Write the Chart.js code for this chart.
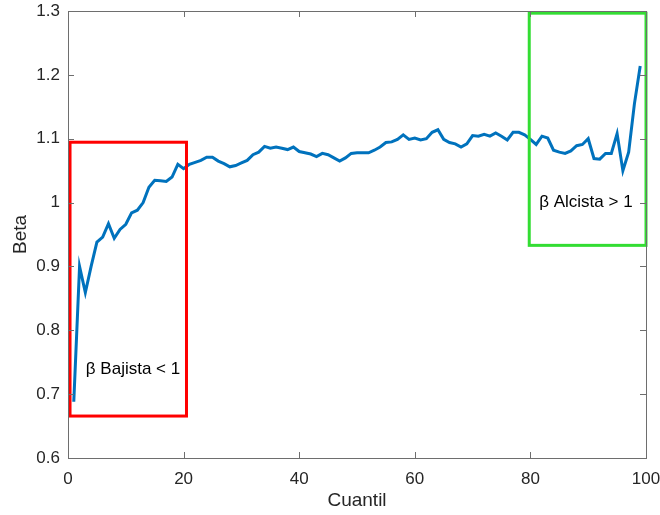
<!DOCTYPE html>
<html>
<head>
<meta charset="utf-8">
<script src="https://cdn.jsdelivr.net/npm/chart.js@4"></script>
<style>
  html, body { margin: 0; padding: 0; background: #fff; }
  #wrap { width: 660px; height: 515px; }
</style>
</head>
<body>
<div id="wrap"><canvas id="c" width="660" height="515"></canvas></div>
<script>
const quantiles = [1,2,3,4,5,6,7,8,9,10,11,12,13,14,15,16,17,18,19,20,21,22,23,24,25,26,27,28,29,30,31,32,33,34,35,36,37,38,39,40,41,42,43,44,45,46,47,48,49,50,51,52,53,54,55,56,57,58,59,60,61,62,63,64,65,66,67,68,69,70,71,72,73,74,75,76,77,78,79,80,81,82,83,84,85,86,87,88,89,90,91,92,93,94,95,96,97,98,99];
const betaValues = [0.688,0.900,0.859,0.900,0.938,0.946,0.967,0.944,0.958,0.966,
  0.984,0.988,1.000,1.024,1.035,1.034,1.033,1.040,1.060,1.053,
  1.060,1.063,1.066,1.071,1.071,1.065,1.061,1.056,1.058,1.062,
  1.066,1.075,1.079,1.088,1.085,1.087,1.085,1.083,1.087,1.080,
  1.078,1.076,1.072,1.077,1.075,1.070,1.065,1.070,1.077,1.078,
  1.078,1.078,1.082,1.087,1.094,1.095,1.099,1.106,1.099,1.101,
  1.098,1.100,1.110,1.114,1.099,1.094,1.092,1.087,1.092,1.105,
  1.104,1.107,1.104,1.109,1.104,1.098,1.110,1.110,1.106,1.099,
  1.091,1.104,1.101,1.082,1.079,1.077,1.081,1.089,1.091,1.100,
  1.069,1.068,1.077,1.077,1.108,1.050,1.079,1.155,1.214];
const xTicks = [0,20,40,60,80,100];
const yTicks = [0.6,0.7,0.8,0.9,1,1.1,1.2,1.3];
// annotation boxes in data units: [xMin, xMax, yMin, yMax]
const bearBox = [0.35, 20.5, 0.6657, 1.0945];
const bullBox = [79.8, 100, 0.933, 1.2966];
const bearLabel = { text: 'β Bajista < 1', x: 11.25, y: 0.739 };
const bullLabel = { text: 'β Alcista > 1', x: 89.6, y: 1.0 };

const points = quantiles.map((q, i) => ({ x: q, y: betaValues[i] }));
const AXIS = '#6e6e6e';
const TXT = '#262626';
const FONT = '"Liberation Sans", Arial, sans-serif';

const decor = {
  id: 'decor',
  afterDatasetsDraw(chart) {
    const { ctx, chartArea: a, scales: { x, y } } = chart;
    ctx.save();
    const drawBox = (b, color) => {
      const x0 = x.getPixelForValue(b[0]), x1 = x.getPixelForValue(b[1]);
      const y0 = y.getPixelForValue(b[3]), y1 = y.getPixelForValue(b[2]);
      ctx.strokeStyle = color; ctx.lineWidth = 3;
      ctx.strokeRect(x0, y0, x1 - x0, y1 - y0);
    };
    drawBox(bearBox, '#ff0000');
    drawBox(bullBox, '#33dd33');
    ctx.fillStyle = '#000';
    ctx.font = '17px ' + FONT;
    ctx.textAlign = 'center'; ctx.textBaseline = 'middle';
    [bearLabel, bullLabel].forEach(l => ctx.fillText(l.text, x.getPixelForValue(l.x), y.getPixelForValue(l.y)));
    ctx.strokeStyle = AXIS; ctx.lineWidth = 1;
    ctx.strokeRect(Math.round(a.left) + 0.5, Math.round(a.top) + 0.5, Math.round(a.right - a.left), Math.round(a.bottom - a.top));
    ctx.beginPath();
    xTicks.forEach(v => {
      const px = Math.round(x.getPixelForValue(v)) + 0.5;
      ctx.moveTo(px, a.bottom); ctx.lineTo(px, a.bottom - 6);
      ctx.moveTo(px, a.top); ctx.lineTo(px, a.top + 6);
    });
    yTicks.forEach(v => {
      const py = Math.round(y.getPixelForValue(v)) + 0.5;
      ctx.moveTo(a.left, py); ctx.lineTo(a.left + 6, py);
      ctx.moveTo(a.right, py); ctx.lineTo(a.right - 6, py);
    });
    ctx.stroke();
    ctx.restore();
  }
};

new Chart(document.getElementById('c'), {
  type: 'line',
  data: {
    datasets: [{
      data: points,
      borderColor: '#0072BD',
      borderWidth: 3,
      pointRadius: 0,
      tension: 0,
      fill: false
    }]
  },
  options: {
    responsive: false,
    animation: false,
    layout: { padding: { top: 11, right: 14, left: 0, bottom: 0 }, autoPadding: false },
    plugins: { legend: { display: false }, tooltip: { enabled: false } },
    scales: {
      x: {
        type: 'linear', min: 0, max: 100,
        afterBuildTicks: s => { s.ticks = xTicks.map(v => ({ value: v })); },
        afterFit: s => { s.height = 57; s.paddingLeft = 0; s.paddingRight = 0; },
        grid: { display: false, drawTicks: false },
        border: { display: false },
        ticks: { padding: 11, color: TXT, font: { family: FONT, size: 17 }, maxRotation: 0, callback: v => String(v) },
        title: { display: true, text: 'Cuantil', color: TXT, font: { family: FONT, size: 19 }, padding: { top: 0, bottom: 3 } }
      },
      y: {
        min: 0.6, max: 1.3,
        afterBuildTicks: s => { s.ticks = yTicks.map(v => ({ value: v })); },
        afterFit: s => { s.width = 68; s.paddingTop = 0; s.paddingBottom = 0; },
        grid: { display: false, drawTicks: false },
        border: { display: false },
        ticks: { padding: 8, color: TXT, font: { family: FONT, size: 17 }, callback: v => String(Math.round(v * 10) / 10) },
        title: { display: true, text: 'Beta', color: TXT, font: { family: FONT, size: 19 }, padding: { top: 9, bottom: 0 } }
      }
    }
  },
  plugins: [decor]
});
</script>
</body>
</html>
